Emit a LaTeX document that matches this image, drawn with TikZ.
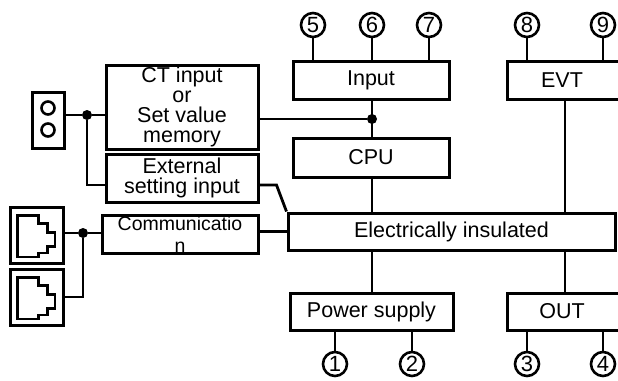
\documentclass[tikz,border=0pt]{standalone}
\usepackage{fontspec}
\setmainfont{Liberation Sans}
\begin{document}
\begin{tikzpicture}[x=1pt,y=-1pt,
  box/.style={draw, line width=3pt, inner sep=0pt, align=center,
    font=\fontsize{21.5}{20}\selectfont},
  wire/.style={line width=2.8pt},
  pin/.style={circle, draw, line width=2.6pt, minimum size=24pt, inner sep=0pt,
    font=\fontsize{22}{22}\selectfont},
  jdot/.style={circle, fill, inner sep=0pt, minimum size=10pt},
  icon/.style={draw, line width=3pt, inner sep=0pt}]
\useasboundingbox (0,0) rectangle (618,380);
\clip (0,0) rectangle (618,380);

% main blocks
\node[box, minimum width=156pt, minimum height=38pt] (input) at (371,80) {Input};
\node[box, minimum width=156pt, minimum height=39pt] (cpu) at (371,157.5) {CPU};
\node[box, minimum width=116pt, minimum height=38pt] (evt) at (565,80) {\hspace*{-6pt}EVT};
\node[box, minimum width=327pt, minimum height=37pt] (ei) at (451.5,231.5) {Electrically insulated};
\node[box, minimum width=163pt, minimum height=37pt] (power) at (371.5,311.5) {Power supply};
\node[box, minimum width=116pt, minimum height=37pt] (out) at (565,311.5) {\hspace*{-6pt}OUT};
\node[box, minimum width=152pt, minimum height=84pt] (ct) at (182,107) {CT input\\or\\Set value\\memory};
\node[box, minimum width=152pt, minimum height=48pt, font=\fontsize{21.5}{20.5}\selectfont] (ext) at (182,178) {External\\setting input};
\node[box, minimum width=156pt, minimum height=38pt, font=\fontsize{19.5}{22}\selectfont] (comm) at (180,234) {Communicatio\\n};

% terminal pins
\node[pin] (p5) at (313,25) {5};
\node[pin] (p6) at (372,25) {6};
\node[pin] (p7) at (429,25) {7};
\node[pin] (p8) at (527,25) {8};
\node[pin] (p9) at (603,25) {9};
\node[pin] (p1) at (335,364) {1};
\node[pin] (p2) at (412,364) {2};
\node[pin] (p3) at (527,364) {3};
\node[pin] (p4) at (603,364) {4};

\foreach \p in {p5,p6,p7} \draw[wire] (\p) -- (\p |- input.north);
\foreach \p in {p8,p9} \draw[wire] (\p) -- (\p |- evt.north);
\foreach \p in {p1,p2} \draw[wire] (\p) -- (\p |- power.south);
\foreach \p in {p3,p4} \draw[wire] (\p) -- (\p |- out.south);

% internal connections
\node[jdot] (d2) at (372,119) {};
\draw[wire] (input.south -| d2) -- (cpu.north -| d2);
\draw[wire] (ct.east |- d2) -- (d2);
\draw[wire] (cpu.south -| d2) -- (ei.north -| d2);
\draw[wire] (evt.south) -- (evt.south |- ei.north);
\draw[wire] (ei.south -| d2) -- (power.north -| d2);
\draw[wire] (out.north) -- (out.north |- ei.south);
\draw[wire] ([yshift=-7pt]ext.east) -- ++(17,0) -- (ei.north west);
\draw[wire] (ei.west -| comm.east) -- (ei.west);

% screw terminal icon
\node[icon, minimum width=32pt, minimum height=56pt] (term) at (48,120) {};
\node[circle, draw, line width=2.6pt, minimum size=13pt, inner sep=0pt] (t1) at (48,108) {};
\node[circle, draw, line width=2.6pt, minimum size=13pt, inner sep=0pt] (t2) at (48,130) {};
\node[jdot] (d1) at (87,115) {};
\draw[wire] (term.east |- d1) -- (d1) -- (d1 -| ct.west);
\draw[wire] (d1) |- ([yshift=-7pt]ext.west);

% modular jack icons
\node[icon, minimum width=53pt, minimum height=56pt] (jack1) at (36.5,235) {};
\node[icon, minimum width=53pt, minimum height=56pt] (jack2) at (36.5,297) {};
\foreach \j in {jack1,jack2}
  \draw[line width=2.8pt, line join=miter]
    ([shift={(-18.8,-19.5)}]\j.center) -- ([shift={(1.8,-19.5)}]\j.center)
    -- ([shift={(1.8,-11.5)}]\j.center) -- ([shift={(11.2,-11.5)}]\j.center)
    -- ([shift={(11.2,-2.7)}]\j.center) -- ([shift={(18.5,-2.7)}]\j.center)
    -- ([shift={(18.5,11.3)}]\j.center) -- ([shift={(11.2,11.3)}]\j.center)
    -- ([shift={(11.2,18)}]\j.center) -- ([shift={(1.8,18)}]\j.center)
    -- ([shift={(1.8,22)}]\j.center) -- ([shift={(-18.8,22)}]\j.center)
    -- cycle;
\node[jdot] (d3) at (83,233) {};
\draw[wire] (jack1.east |- d3) -- (d3) -- (d3 -| comm.west);
\draw[wire] (d3) |- (jack2.east);
\end{tikzpicture}
\end{document}
